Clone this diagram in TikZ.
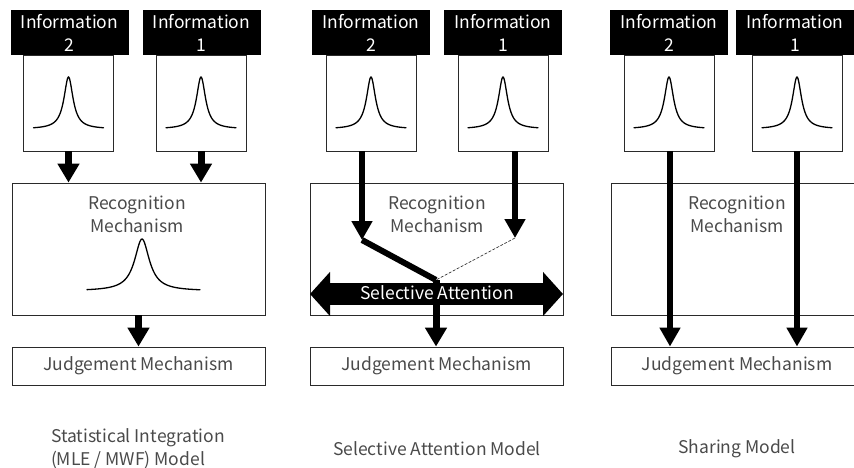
\documentclass[tikz,border=0pt]{standalone}
\usepackage{fontspec}
\setmainfont{Noto Sans CJK JP}
\usetikzlibrary{arrows.meta,calc}
\definecolor{ink}{HTML}{4A4A4A}
\definecolor{edge}{HTML}{2A2A2A}
\begin{document}
\begin{tikzpicture}[x=1pt,y=-1pt,
  every node/.style={font=\fontsize{17.5}{23}\selectfont, text=ink},
  header/.style={rectangle, fill=black, minimum width=118pt, minimum height=45pt,
    inner sep=0pt, align=center, text=white},
  pdfbox/.style={rectangle, draw=edge, line width=0.9pt, fill=white,
    minimum width=90pt, minimum height=96pt, inner sep=0pt},
  stage/.style={rectangle, draw=edge, line width=0.9pt, fill=white,
    minimum width=253pt, inner sep=0pt},
  label/.style={align=center, inner sep=0pt},
  fat/.style={line width=7pt, -{Triangle[width=21pt,length=19pt]}},
  slim/.style={line width=6pt, -{Triangle[width=20pt,length=19pt]}},
  peak/.style={line width=1.3pt, black, line cap=round, smooth}
]
\useasboundingbox (0,0) rectangle (854,468);

% ---------------- Statistical integration ----------------
\node[header] (h12) at (69.5,32.5) {Information\\2};
\node[header] (h11) at (201.5,32.5) {Information\\1};
\node[pdfbox] (b12) at (68.5,103) {};
\node[pdfbox] (b11) at (201,103) {};
\node[stage, minimum height=132pt] (rec1) at (138.5,249) {};
\node[stage, minimum height=38pt] (jud1) at (138.5,366) {};
\node[label] (rt1) at (137,214.5) {Recognition\\Mechanism};
\node[label] (jt1) at (jud1.center) {Judgement Mechanism};
\foreach \b in {b12,b11}
  \draw[peak, shift={(\b.center)}] plot[domain=-35:35, samples=141]
    ({\x},{26-52/(1+(\x/5.5)^2)});
\draw[peak] plot[domain=-55:58, samples=161] ({142+\x},{291-52/(1+(\x/9)^2)});
\draw[fat] (b12.south) -- (b12.south |- rec1.north);
\draw[fat] (b11.south) -- (b11.south |- rec1.north);
\draw[fat] (rec1.south) -- (jud1.north);
\node[label, align=left] (cap1) at (138,448.5) {Statistical Integration\\(MLE / MWF) Model};

% ---------------- Selective attention ----------------
\node[header] (h22) at (371,32.5) {Information\\2};
\node[header] (h21) at (503,32.5) {Information\\1};
\node[pdfbox] (b22) at (371,103) {};
\node[pdfbox] (b21) at (503,103) {};
\node[stage, minimum height=132pt] (rec2) at (436.5,249) {};
\node[stage, minimum height=38pt] (jud2) at (436.5,366) {};
\node[label] (rt2) at (437,214.5) {Recognition\\Mechanism};
\node[label] (jt2) at (jud2.center) {Judgement Mechanism};
\foreach \b in {b22,b21}
  \draw[peak, shift={(\b.center)}] plot[domain=-35:35, samples=141]
    ({\x},{26-52/(1+(\x/5.5)^2)});
\coordinate (kink) at (362,240);
\coordinate (drop) at (515,238);
\coordinate (join) at (436,280);
\coordinate (attL) at (310,294);
\coordinate (attR) at (563,294);
\draw[slim] (b22.south -| kink) -- (kink);
\draw[slim] (b21.south -| drop) -- (drop);
\draw[line width=6pt] (kink) -- (join);
\draw[edge, line width=0.6pt, dash pattern=on 3pt off 1.5pt] (drop) -- (join);
\draw[line width=22pt, {Triangle[width=43pt,length=20pt]}-{Triangle[width=43pt,length=20pt]}]
  (attL) -- (attR);
\draw[fat] (join) -- (join |- jud2.north);
\node[label, text=white] (att) at (437,293) {Selective Attention};
\node[label] (cap2) at (437,449) {Selective Attention Model};

% ---------------- Sharing ----------------
\node[header] (h32) at (669,32.5) {Information\\2};
\node[header] (h31) at (795,32.5) {Information\\1};
\node[pdfbox] (b32) at (669,103) {};
\node[pdfbox] (b31) at (797,103) {};
\node[stage, minimum width=269pt, minimum height=132pt] (rec3) at (745.5,249) {};
\node[stage, minimum width=269pt, minimum height=38pt] (jud3) at (745.5,366) {};
\node[label] (rt3) at (737,214.5) {Recognition\\Mechanism};
\node[label] (jt3) at (737,366) {Judgement Mechanism};
\foreach \b in {b32,b31}
  \draw[peak, shift={(\b.center)}] plot[domain=-35:35, samples=141]
    ({\x},{26-52/(1+(\x/5.5)^2)});
\draw[slim] (b32.south -| 670,0) -- (670,0 |- jud3.north);
\draw[slim] (b31.south) -- (b31.south |- jud3.north);
\node[label] (cap3) at (737,449) {Sharing Model};
\end{tikzpicture}
\end{document}
